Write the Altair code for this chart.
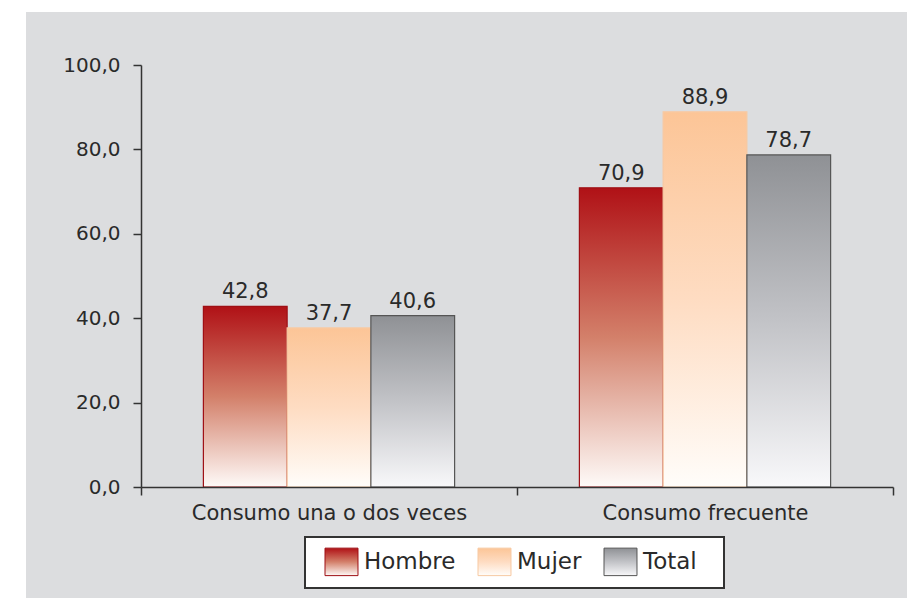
import altair as alt
import pandas as pd

categories = ["Consumo una o dos veces", "Consumo frecuente"]
series = ["Hombre", "Mujer", "Total"]
hombre = [42.8, 70.9]
mujer = [37.7, 88.9]
total = [40.6, 78.7]
y_ticks = [0, 20, 40, 60, 80, 100]

rows = []
for i, c in enumerate(categories):
    for s, vals in zip(series, [hombre, mujer, total]):
        rows.append({"cat": c, "serie": s, "valor": vals[i]})
df = pd.DataFrame(rows)
df["etiqueta"] = df["valor"].map(lambda v: f"{v:.1f}".replace(".", ","))


def grad(top, mid, bottom):
    return alt.ExprRef(
        expr=(
            "{gradient: 'linear', x1: 0, y1: 0, x2: 0, y2: 1, stops: ["
            f"{{offset: 0, color: '{top}'}}, {{offset: 0.5, color: '{mid}'}}, "
            f"{{offset: 1, color: '{bottom}'}}]}}"
        )
    )


fill_range = [
    grad("#b01116", "#d3806a", "#fefaf8"),
    grad("#fcc597", "#fedcc2", "#fffdfa"),
    grad("#8f9195", "#c2c3c7", "#f8f8fa"),
]
stroke_range = ["#9e0f14", "#f7c9a2", "#555555"]

FONT = "DejaVu Sans"
TXT = "#2a2a2a"
BLANK = "\u2800"

x_enc = alt.X(
    "cat:N",
    sort=categories,
    scale=alt.Scale(paddingInner=0, paddingOuter=0),
    axis=alt.Axis(
        title=None,
        labelAngle=0,
        labelLimit=0,
        tickBand="extent",
        tickSize=8,
        tickWidth=1.5,
        tickColor="#333",
        domainColor="#333",
        domainWidth=1.5,
        labelFont=FONT,
        labelFontSize=21,
        labelColor=TXT,
        labelPadding=7,
        zindex=2,
    ),
)
xoff = alt.XOffset(
    "serie:N", sort=series, scale=alt.Scale(paddingInner=0, paddingOuter=0.745)
)
y_enc = alt.Y(
    "valor:Q",
    scale=alt.Scale(domain=[0, 100], nice=False),
    axis=alt.Axis(
        title=None,
        values=y_ticks,
        grid=False,
        tickSize=8,
        tickWidth=1.5,
        tickColor="#333",
        domainColor="#333",
        domainWidth=1.5,
        labelFont=FONT,
        labelFontSize=20,
        labelColor=TXT,
        labelPadding=13,
        labelExpr="replace(format(datum.value, '.1f'), '.', ',')",
        zindex=2,
    ),
)

bg = (
    alt.Chart(pd.DataFrame({"a": [0]}))
    .mark_rect(color="#dcdddf")
    .encode(
        x=alt.value(-115), x2=alt.value(766), y=alt.value(-53), y2=alt.value(533)
    )
)

bars = (
    alt.Chart(df)
    .mark_bar(strokeWidth=1.2)
    .encode(
        x=x_enc,
        xOffset=xoff,
        y=y_enc,
        fill=alt.Fill(
            "serie:N",
            sort=series,
            scale=alt.Scale(domain=series, range=fill_range),
            legend=alt.Legend(
                title=None,
                orient="none",
                legendX=164,
                legendY=472,
                direction="horizontal",
                fillColor="white",
                strokeColor="#333",
                padding=10,
                symbolOffset=12,
                symbolType="M-1.2,-1L1.2,-1L1.2,1L-1.2,1Z",
                symbolSize=756,
                symbolStrokeColor="#666",
                symbolStrokeWidth=1,
                labelFont=FONT,
                labelFontSize=23,
                labelColor=TXT,
                labelOffset=8,
                labelExpr=f"datum.label == 'Total' ? 'Total{BLANK}' : datum.label",
                columnPadding=12,
                zindex=3,
            ),
        ),
        stroke=alt.Stroke(
            "serie:N",
            sort=series,
            scale=alt.Scale(domain=series, range=stroke_range),
            legend=None,
        ),
    )
)

labels = (
    alt.Chart(df)
    .mark_text(baseline="bottom", dy=-4, font=FONT, fontSize=21, color=TXT)
    .encode(x=x_enc, xOffset=xoff, y=y_enc, text="etiqueta:N")
)

chart = (
    alt.layer(bg, bars, labels)
    .properties(
        width=752,
        height=422,
        padding={"left": 133, "top": 57, "right": 14, "bottom": 111},
        autosize=alt.AutoSizeParams(type="none"),
        background="white",
    )
    .configure_view(stroke=None)
    .configure_legend(strokeWidth=2)
)

chart.save("out.html", embed_options={"renderer": "svg", "actions": False})
